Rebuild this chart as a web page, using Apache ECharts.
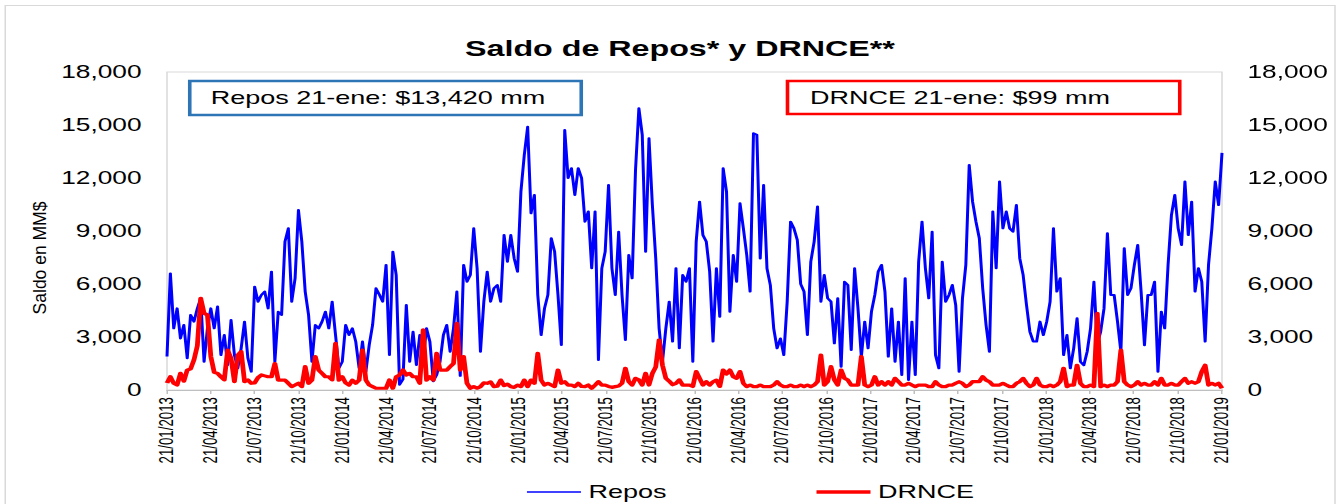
<!DOCTYPE html>
<html><head><meta charset="utf-8">
<script src="https://cdn.jsdelivr.net/npm/echarts@6/dist/echarts.min.js"></script>
<style>
html,body{margin:0;padding:0;background:#fff;overflow:hidden;}
#wrap{width:1342px;height:504px;overflow:hidden;position:relative;background:#fff;}
#chart{position:absolute;left:0;top:0;width:894.6667px;height:504px;transform:scaleX(1.5);transform-origin:0 0;}
</style></head><body>
<div id="wrap"><div id="chart"></div></div>
<script>
// ---- data (weekly observations starting 21/01/2013) ----
const firstWeek = '21/01/2013';
const tickLabels = ['21/01/2013','21/04/2013','21/07/2013','21/10/2013','21/01/2014','21/04/2014','21/07/2014','21/10/2014',
  '21/01/2015','21/04/2015','21/07/2015','21/10/2015','21/01/2016','21/04/2016','21/07/2016','21/10/2016',
  '21/01/2017','21/04/2017','21/07/2017','21/10/2017','21/01/2018','21/04/2018','21/07/2018','21/10/2018','21/01/2019'];
const yTicks = [0, 3000, 6000, 9000, 12000, 15000, 18000];

const repos2013 = [1900,6600,3490,4620,2920,3680,1800,4250,3870,4620,
 5190,1600,3490,4620,3490,4720,1980,3110,1420,3960,
 1980,1230,2360,3870,1800,1040,5850,5000,5380,5570,
 4620,6700,1600,4430,4250,8400,9150,5000,6320,10190,
 8400,5570,4250,1600,3680,3490,3870,4430,3490,5000,
 3110,1230];
const repos2014 = [1600,3680,3110,3490,2740,1230,2740,1040,2550,3680,
 5760,5400,5000,7080,1980,7830,6500,300,600,4810,
 1600,3300,1420,3110,1790,3490,2730,500,850,1600,
 3110,3680,2170,3490,5570,800,7080,6130,6510,9150,
 6890,2170,5000,6700,5000,5760,5940,5000,8770,7260,
 8770,7450];
const repos2015 = [6700,11230,13300,14900,10000,11040,5380,3110,4620,5380,
 8590,7830,5380,2550,14720,12000,12550,11040,12550,12000,
 9530,10100,6890,10100,1700,6890,7830,11600,6890,5380,
 8960,5380,2830,7640,6320,12450,15950,14440,7830,14250,
 10470,7450,3490,1600,3490,5000,2740,6890,2360,6510,
 6130,6890];
const repos2016 = [1600,8400,10660,8770,8400,6700,2740,6890,4150,12550,
 11230,4430,7640,6130,10570,9150,7640,5570,14530,14440,
 7450,11600,6890,5940,3490,2360,2920,1980,5000,9530,
 9150,8490,6000,5570,3110,7260,8400,10380,5000,6510,
 5190,5000,2640,5190,1320,6130,5940,2260,6890,4620,
 1890,3870];
const repos2017 = [2360,4430,5380,6700,7080,5570,1890,4620,1600,3870,
 850,6320,570,3870,850,7260,9530,6890,5190,8960,
 1980,1230,7260,5000,5380,5940,4810,1040,5190,7080,
 12740,10660,9530,8590,5760,3680,2170,10100,6890,11800,
 9150,10100,9150,8960,10470,7450,6510,4810,3300,2740,
 2740,3870];
const repos2018 = [3110,3870,5000,9150,5570,6320,1980,3110,1230,2360,
 4060,1600,1400,2170,3490,6130,2600,3300,4620,8870,
 5380,5380,3870,2170,8020,5380,5760,7080,8210,5570,
 2540,5380,5380,6130,1040,4430,3490,7080,9900,11040,
 9150,8210,11800,8770,10660,5570,6890,6130,2740,7080,
 9150,11800];
const repos2019 = [10470,13420];

const drnce2013 = [400,750,380,280,940,500,1130,1200,1700,2500,
 5190,4340,4250,1900,1000,940,750,570,2260,1800,
 470,1980,2170,470,570,380,400,700,850,800,
 750,750,1500,560,560,560,380,190,280,380,
 190,1320,380,560,1890,1130,940,750,750,570,
 2640,560];
const drnce2014 = [750,400,280,560,380,560,2260,560,280,190,
 100,100,100,100,570,100,750,850,1130,850,
 940,750,750,380,3400,560,750,560,2075,1130,
 1130,1130,1320,1500,3770,1130,1890,380,100,190,
 100,190,400,380,460,190,220,560,250,330,
 190,150];
const drnce2015 = [280,190,560,190,560,380,2075,560,280,380,
 280,190,1130,380,470,280,280,190,380,200,
 190,280,100,280,470,280,280,200,150,190,
 230,380,1230,470,280,660,580,280,940,280,
 940,1300,2830,1400,660,500,300,380,570,280,
 280,280];
const drnce2016 = [200,1040,660,280,470,280,470,560,200,1130,
 900,1130,750,660,1040,380,190,280,190,190,
 280,190,190,190,280,470,280,190,190,280,
 190,190,280,190,280,190,280,470,1980,280,
 470,1320,570,280,1130,660,560,280,280,280,
 1890,280];
const drnce2017 = [190,280,750,280,470,280,470,280,660,470,
 280,280,380,280,190,280,280,280,190,190,
 470,280,190,190,280,280,380,470,380,190,
 280,470,470,470,750,560,470,280,280,280,
 380,280,190,190,380,470,660,380,190,280,
 660,280];
const drnce2018 = [190,190,280,190,280,470,1230,190,280,280,
 1400,380,190,190,280,190,4340,190,280,190,
 280,280,470,2260,470,280,190,280,470,280,
 380,280,280,470,280,660,280,280,380,280,
 280,470,660,380,470,380,470,1040,1400,280,
 380,280];
const drnce2019 = [380,99];

// ---- build ----
function parseDate(s){ const p = s.split('/').map(Number); return new Date(p[2], p[1]-1, p[0]).getTime(); }
const startTs = parseDate(firstWeek);
function weekTs(i){ const d = new Date(startTs); d.setDate(d.getDate() + 7*i); return d.getTime(); }
const repos = [].concat(repos2013, repos2014, repos2015, repos2016, repos2017, repos2018, repos2019);
const drnce = [].concat(drnce2013, drnce2014, drnce2015, drnce2016, drnce2017, drnce2018, drnce2019);
const reposData = repos.map((v,i)=>[weekTs(i), v]);
const drnceData = drnce.map((v,i)=>[weekTs(i), v]);
const tickTs = tickLabels.map(parseDate);
const fmtY = v => Number(v).toLocaleString('en-US');
function fmtX(v){
  let best = 0, bd = Infinity;
  tickTs.forEach((t,i)=>{ const d = Math.abs(t - v); if (d < bd) { bd = d; best = i; } });
  return tickLabels[best];
}

const SX = 1.5; // horizontal stretch of the original picture
const W = 1342 / SX, H = 504;
const chart = echarts.init(document.getElementById('chart'), null, {renderer:'svg', width: W, height: H});

const yLabel = {fontFamily:'Arial, Liberation Sans', fontSize:17.5, color:'#000', margin:17, formatter: fmtY};

chart.setOption({
  animation:false,
  backgroundColor:'#fff',
  title:{text:'Saldo de Repos* y DRNCE**', left:305, top:33,
    textStyle:{fontFamily:'Arial, Liberation Sans', fontWeight:'bold', fontSize:21.5, color:'#000'}},
  legend:{left:351.3, top:483, padding:0, itemGap:100, itemWidth:36, itemHeight:14,
    textStyle:{fontFamily:'Arial, Liberation Sans', fontSize:18, color:'#000'},
    data:[{name:'Repos', icon:'path://M0,0H36V1.6H0Z'}, {name:'DRNCE', icon:'path://M0,0H36V3.6H0Z'}]},
  grid:{left:111.333, right:80, top:72, bottom:114, show:true, borderColor:'#d9d9d9', borderWidth:1, containLabel:false},
  xAxis:{type:'value', min:tickTs[0], max:tickTs[tickTs.length-1], scale:true,
    axisLine:{lineStyle:{color:'#bfbfbf', width:1}},
    axisTick:{show:true, length:4, customValues:tickTs, lineStyle:{color:'#bfbfbf'}},
    splitLine:{show:false},
    axisLabel:{rotate:90, margin:7, fontFamily:'Arial, Liberation Sans', fontSize:13.3, color:'#000',
      customValues:tickTs, formatter:fmtX}
  },
  yAxis:[
    {type:'value', position:'left', min:yTicks[0], max:yTicks[yTicks.length-1], interval:yTicks[1]-yTicks[0],
      axisLine:{show:false}, axisTick:{show:false}, splitLine:{show:false}, axisLabel:yLabel},
    {type:'value', position:'right', min:yTicks[0], max:yTicks[yTicks.length-1], interval:yTicks[1]-yTicks[0],
      axisLine:{show:false}, axisTick:{show:false}, splitLine:{show:false}, axisLabel:yLabel}
  ],
  graphic:[
    {type:'rect', silent:true, z:-10, shape:{x:3.5, y:5.5, width:886.5, height:520},
      style:{fill:'none', stroke:'#d9d9d9', lineWidth:1}},
    {type:'text', silent:true, x:26.7, y:258, rotation:Math.PI/2, scaleX:1, scaleY:1/SX,
      style:{text:'Saldo en MM$', fontFamily:'Arial, Liberation Sans', fontSize:17.5, fill:'#000',
        align:'center', verticalAlign:'middle', textAlign:'center', textVerticalAlign:'middle'}},
    {type:'rect', silent:true, z:50, shape:{x:126.5, y:81, width:261, height:34},
      style:{fill:'#fff', stroke:'#2e75b6', lineWidth:2.4}},
    {type:'text', silent:true, z:51, x:140.5, y:98,
      style:{text:'Repos 21-ene: $13,420 mm', fontFamily:'Arial, Liberation Sans', fontSize:18, fill:'#000',
        align:'left', verticalAlign:'middle', textAlign:'left', textVerticalAlign:'middle'}},
    {type:'rect', silent:true, z:50, shape:{x:525, y:81, width:261.5, height:33},
      style:{fill:'#fff', stroke:'#ff0000', lineWidth:2.4}},
    {type:'text', silent:true, z:51, x:540, y:97.5,
      style:{text:'DRNCE 21-ene: $99 mm', fontFamily:'Arial, Liberation Sans', fontSize:18, fill:'#000',
        align:'left', verticalAlign:'middle', textAlign:'left', textVerticalAlign:'middle'}}
  ],
  series:[
    {name:'Repos', type:'line', data:reposData, symbol:'none', showSymbol:false, z:2,
      lineStyle:{color:'#0000ff', width:2, join:'round'}, itemStyle:{color:'#0000ff'}},
    {name:'DRNCE', type:'line', data:drnceData, symbol:'none', showSymbol:false, z:3,
      lineStyle:{color:'#ff0000', width:3.2, join:'round'}, itemStyle:{color:'#ff0000'}}
  ]
});
</script>
</body></html>
